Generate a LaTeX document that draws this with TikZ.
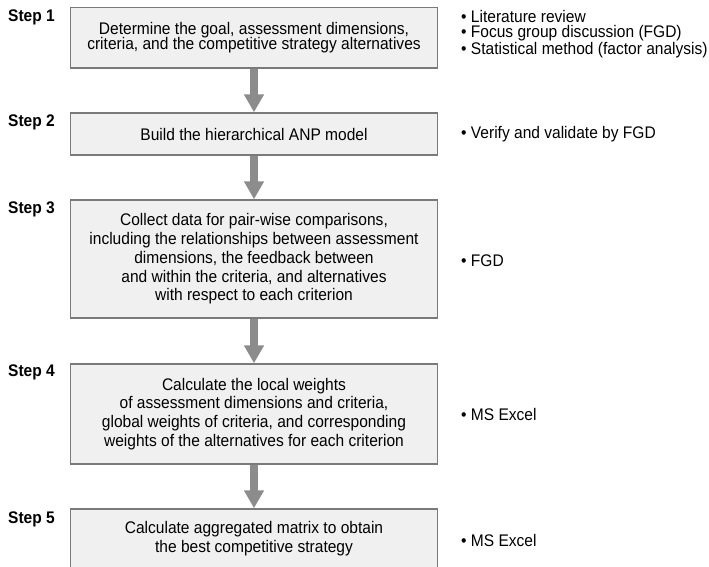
\documentclass[tikz,border=0pt]{standalone}
\usepackage{fontspec}
\setmainfont{Liberation Sans}[FakeStretch=0.925]
\usetikzlibrary{arrows.meta}
\definecolor{boxfill}{HTML}{F0F0F0}
\definecolor{boxline}{HTML}{7A7A7A}
\definecolor{arrowgray}{HTML}{8C8C8C}
\begin{document}
\begin{tikzpicture}[x=1pt,y=-1pt,
  stepbox/.style={draw=boxline,line width=1.4pt,fill=boxfill,minimum width=367.5pt,
    inner sep=0pt,align=center,font=\fontsize{16.8}{18.7}\selectfont},
  steplabel/.style={anchor=base west,inner sep=0pt,font=\fontsize{16.8}{18}\selectfont\bfseries},
  note/.style={anchor=base west,inner sep=0pt,align=left,font=\fontsize{16.8}{15.6}\selectfont},
  flowarrow/.style={draw=arrowgray,line width=7.5pt,-{Triangle[width=19pt,length=18pt]}}
]
\clip (0,0) rectangle (709,567);
% boxes
\node[stepbox,minimum height=60.5pt,font=\fontsize{16.8}{15.7}\selectfont] (b1) at (254,37.75)
  {Determine the goal, assessment dimensions,\\criteria, and the competitive strategy alternatives};
\node[stepbox,minimum height=42pt] (b2) at (254,134) {Build the hierarchical ANP model};
\node[stepbox,minimum height=118pt] (b3) at (254,259)
  {Collect data for pair-wise comparisons,\\including the relationships between assessment\\dimensions, the feedback between\\and within the criteria, and alternatives\\with respect to each criterion};
\node[stepbox,minimum height=100pt] (b4) at (254,414)
  {Calculate the local weights\\of assessment dimensions and criteria,\\global weights of criteria, and corresponding\\weights of the alternatives for each criterion};
\node[stepbox,minimum height=60pt] (b5) at (254,539)
  {Calculate aggregated matrix to obtain\\the best competitive strategy};
% arrows
\draw[flowarrow] (b1.south) -- (b2.north);
\draw[flowarrow] (b2.south) -- (b3.north);
\draw[flowarrow] (b3.south) -- (b4.north);
\draw[flowarrow] (b4.south) -- (b5.north);
% step labels
\node[steplabel] (s1) at (8,21.7) {Step 1};
\node[steplabel] (s2) at (8,126.7) {Step 2};
\node[steplabel] (s3) at (8,213) {Step 3};
\node[steplabel] (s4) at (8,376.7) {Step 4};
\node[steplabel] (s5) at (8,523) {Step 5};
% notes
\node[note] (n1) at (461,54.5) {• Literature review\\• Focus group discussion (FGD)\\• Statistical method (factor analysis)};
\node[note] (n2) at (461,139) {• Verify and validate by FGD};
\node[note] (n3) at (461,266.7) {• FGD};
\node[note] (n4) at (461,420.7) {• MS Excel};
\node[note] (n5) at (461,546.7) {• MS Excel};
\end{tikzpicture}
\end{document}
